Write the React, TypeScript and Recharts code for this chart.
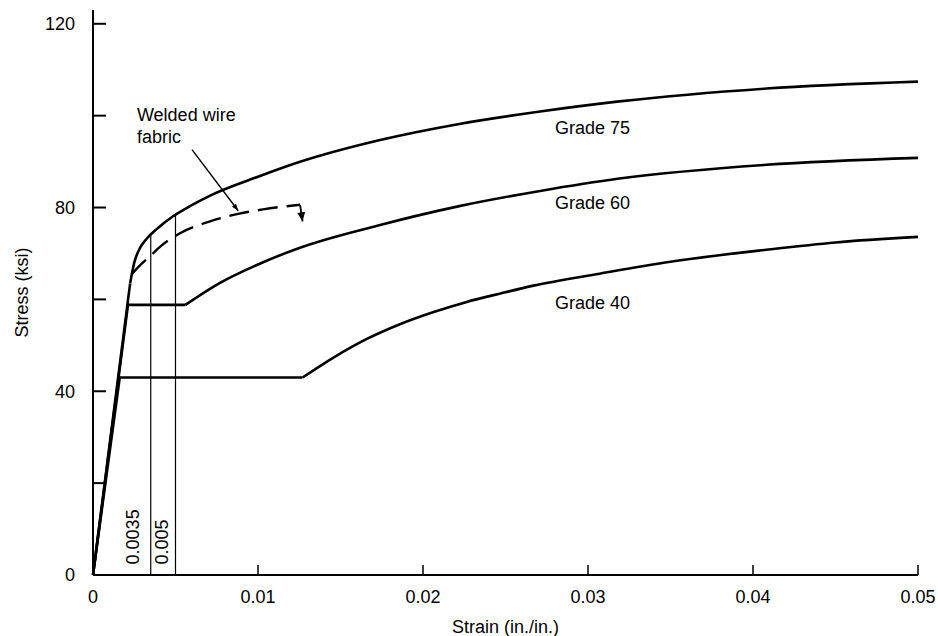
import { LineChart, Line, XAxis, YAxis, ReferenceLine, ReferenceDot } from "recharts";

type Pt = { x: number; y: number };

const strainTicks = [0, 0.01, 0.02, 0.03, 0.04, 0.05];
const stressTicks = [0, 20, 40, 60, 80, 100, 120];
const labelledStress = [0, 40, 80, 120];

// elastic branch + yield plateau
const grade40Yield: Pt[] = [
  { x: 0, y: 0 },
  { x: 0.00162, y: 43 },
  { x: 0.0127, y: 43 },
];
const grade40Hardening: Pt[] = [
  { x: 0.0127, y: 43 },
  { x: 0.0146, y: 47.4 },
  { x: 0.0166, y: 51.4 },
  { x: 0.0186, y: 54.6 },
  { x: 0.0206, y: 57.2 },
  { x: 0.0226, y: 59.4 },
  { x: 0.0247, y: 61.3 },
  { x: 0.0267, y: 63 },
  { x: 0.0307, y: 65.6 },
  { x: 0.035, y: 68.2 },
  { x: 0.0408, y: 70.8 },
  { x: 0.045, y: 72.4 },
  { x: 0.05, y: 73.6 },
];

const grade60Yield: Pt[] = [
  { x: 0, y: 0 },
  { x: 0.00212, y: 58.8 },
  { x: 0.0056, y: 58.8 },
];
const grade60Hardening: Pt[] = [
  { x: 0.0056, y: 58.8 },
  { x: 0.0077, y: 63.6 },
  { x: 0.01, y: 67.6 },
  { x: 0.0125, y: 71.2 },
  { x: 0.0174, y: 76.2 },
  { x: 0.0222, y: 80.3 },
  { x: 0.0271, y: 83.6 },
  { x: 0.0319, y: 86.3 },
  { x: 0.0408, y: 89.3 },
  { x: 0.05, y: 90.8 },
];

const grade75Elastic: Pt[] = [
  { x: 0, y: 0 },
  { x: 0.00225, y: 63.5 },
];
const grade75Curve: Pt[] = [
  { x: 0.00225, y: 63.5 },
  { x: 0.0025, y: 68 },
  { x: 0.00285, y: 71.2 },
  { x: 0.00325, y: 73.2 },
  { x: 0.00386, y: 75.3 },
  { x: 0.00485, y: 78.1 },
  { x: 0.00588, y: 80.3 },
  { x: 0.0071, y: 82.6 },
  { x: 0.01, y: 86.7 },
  { x: 0.0125, y: 89.9 },
  { x: 0.0174, y: 94.7 },
  { x: 0.0222, y: 98.2 },
  { x: 0.0271, y: 100.9 },
  { x: 0.0319, y: 103.1 },
  { x: 0.0408, y: 105.9 },
  { x: 0.05, y: 107.4 },
];

const wireFabric: Pt[] = [
  { x: 0.00235, y: 65.5 },
  { x: 0.00285, y: 67.4 },
  { x: 0.00355, y: 69.7 },
  { x: 0.00395, y: 71.1 },
  { x: 0.00527, y: 74.4 },
  { x: 0.0071, y: 77 },
  { x: 0.0088, y: 78.6 },
  { x: 0.0103, y: 79.6 },
  { x: 0.01255, y: 80.6 },
];
const wireFabricDrop: Pt[] = [
  { x: 0.01255, y: 80.6 },
  { x: 0.0127, y: 77 },
];
const leaderLine: Pt[] = [
  { x: 0.006, y: 92.6 },
  { x: 0.0088, y: 79.3 },
];

// strain markers, up to where they meet the Grade 75 curve
const markerStrains = [0.0035, 0.005];
const markerTops = [74, 78.3];
const markerLabels = ["0.0035", "0.005"];
const markerLabelPos: Pt[] = [
  { x: 0.00242, y: 8.3 },
  { x: 0.00418, y: 7.2 },
];

const gradeNames = ["Grade 75", "Grade 60", "Grade 40"];
const gradeLabelPos: Pt[] = [
  { x: 0.0277, y: 97.3 },
  { x: 0.0277, y: 81 },
  { x: 0.0277, y: 59.2 },
];
const fabricText = ["Welded wire", "fabric"];
const fabricTextPos: Pt[] = [
  { x: 0.00236, y: 100.2 },
  { x: 0.00236, y: 95.4 },
];

const INK = "#000";
const FONT = 18;

function ArrowHead(props: any) {
  const { cx, cy, index, points, len = 9, half = 3.5 } = props;
  const last = points ? points.length - 1 : 1;
  if (index !== last || cx == null || cy == null) return <g key={props.key} />;
  let ang = Math.PI / 2;
  if (points && points[index - 1]) {
    ang = Math.atan2(cy - points[index - 1].y, cx - points[index - 1].x);
  }
  const bx = cx - len * Math.cos(ang);
  const by = cy - len * Math.sin(ang);
  const px = -Math.sin(ang) * half;
  const py = Math.cos(ang) * half;
  return (
    <path
      key={props.key}
      d={`M${cx},${cy} L${bx + px},${by + py} L${bx - px},${by - py} Z`}
      fill={INK}
      stroke="none"
    />
  );
}

export default function App() {
  return (
    <div
      style={{
        position: "absolute",
        left: 0,
        top: 0,
        background: "#fff",
        fontFamily: "'Liberation Sans', Arial, sans-serif",
      }}
    >
      <LineChart
        width={938}
        height={636}
        margin={{ top: 10, right: 20, left: 3, bottom: 0 }}
      >
        <XAxis
          type="number"
          dataKey="x"
          domain={[0, 0.05]}
          ticks={strainTicks}
          interval={0}
          tickFormatter={(v) => String(v)}
          tickSize={-10}
          tickMargin={25}
          height={61}
          axisLine={{ stroke: INK, strokeWidth: 2 }}
          tickLine={{ stroke: INK, strokeWidth: 1.5 }}
          tick={{ fill: INK, fontSize: FONT }}
          label={{
            value: "Strain (in./in.)",
            position: "insideBottom",
            offset: 3,
            fill: INK,
            fontSize: FONT,
          }}
        />
        <YAxis
          type="number"
          dataKey="y"
          domain={[0, 123]}
          ticks={stressTicks}
          interval={0}
          tickFormatter={(v) => (labelledStress.includes(v) ? String(v) : "")}
          width={90}
          tickSize={-13}
          tickMargin={31}
          axisLine={{ stroke: INK, strokeWidth: 2 }}
          tickLine={{ stroke: INK, strokeWidth: 2 }}
          tick={{ fill: INK, fontSize: FONT }}
          label={{
            value: "Stress (ksi)",
            angle: -90,
            position: "insideLeft",
            offset: 19,
            fill: INK,
            fontSize: FONT,
            style: { textAnchor: "middle" },
          }}
        />

        {markerStrains.map((s, i) => (
          <ReferenceLine
            key={"m" + i}
            segment={[
              { x: s, y: 0 },
              { x: s, y: markerTops[i] },
            ]}
            stroke={INK}
            strokeWidth={1.2}
          />
        ))}

        <Line data={grade40Yield} dataKey="y" type="linear" stroke={INK} strokeWidth={2.6} dot={false} activeDot={false} isAnimationActive={false} />
        <Line data={grade40Hardening} dataKey="y" type="monotone" stroke={INK} strokeWidth={2.6} dot={false} activeDot={false} isAnimationActive={false} />
        <Line data={grade60Yield} dataKey="y" type="linear" stroke={INK} strokeWidth={2.6} dot={false} activeDot={false} isAnimationActive={false} />
        <Line data={grade60Hardening} dataKey="y" type="monotone" stroke={INK} strokeWidth={2.6} dot={false} activeDot={false} isAnimationActive={false} />
        <Line data={grade75Elastic} dataKey="y" type="linear" stroke={INK} strokeWidth={2.6} dot={false} activeDot={false} isAnimationActive={false} />
        <Line data={grade75Curve} dataKey="y" type="monotone" stroke={INK} strokeWidth={2.6} dot={false} activeDot={false} isAnimationActive={false} />
        <Line data={wireFabric} dataKey="y" type="monotone" stroke={INK} strokeWidth={2.4} strokeDasharray="20 9" dot={false} activeDot={false} isAnimationActive={false} />
        <Line
          data={wireFabricDrop}
          dataKey="y"
          type="linear"
          stroke={INK}
          strokeWidth={1.8}
          dot={(p: any) => <ArrowHead {...p} key={p.key} len={9} half={4} />}
          activeDot={false}
          isAnimationActive={false}
        />
        <Line
          data={leaderLine}
          dataKey="y"
          type="linear"
          stroke={INK}
          strokeWidth={1.4}
          dot={(p: any) => <ArrowHead {...p} key={p.key} len={7} half={2.5} />}
          activeDot={false}
          isAnimationActive={false}
        />

        {gradeNames.map((g, i) => (
          <ReferenceDot
            key={g}
            x={gradeLabelPos[i].x}
            y={gradeLabelPos[i].y}
            r={0}
            fill="none"
            stroke="none"
            label={{ value: g, position: "right", fill: INK, fontSize: FONT }}
          />
        ))}
        {fabricText.map((t, i) => (
          <ReferenceDot
            key={t}
            x={fabricTextPos[i].x}
            y={fabricTextPos[i].y}
            r={0}
            fill="none"
            stroke="none"
            label={{ value: t, position: "right", fill: INK, fontSize: FONT }}
          />
        ))}
        {markerLabels.map((t, i) => (
          <ReferenceDot
            key={t}
            x={markerLabelPos[i].x}
            y={markerLabelPos[i].y}
            r={0}
            fill="none"
            stroke="none"
            label={{ value: t, angle: -90, position: "center", fill: INK, fontSize: FONT }}
          />
        ))}
      </LineChart>
    </div>
  );
}
